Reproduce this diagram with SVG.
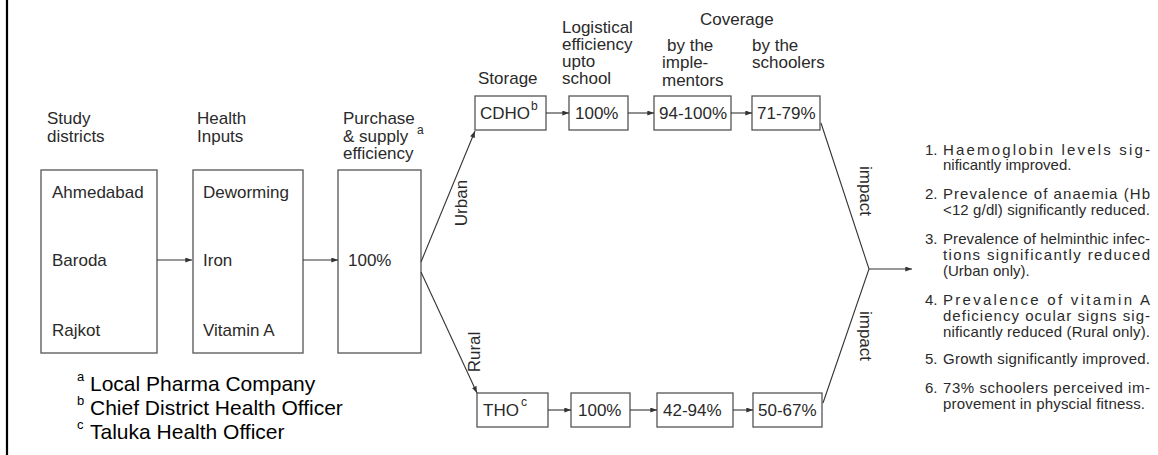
<svg xmlns="http://www.w3.org/2000/svg" width="1158" height="455" viewBox="0 0 1158 455">
<defs>
<marker id="ah" viewBox="0 0 8 6" refX="8" refY="3" markerWidth="7" markerHeight="5" orient="auto" markerUnits="userSpaceOnUse"><path d="M0,0 L8,3 L0,6 z" fill="#333"/></marker>
</defs>
<style>
.bx{fill:#fff;stroke:#555;stroke-width:1.3}
.t{font-family:"Liberation Sans",Arial,sans-serif;font-size:17px;fill:#2a2a2a}
.sup{font-family:"Liberation Sans",Arial,sans-serif;font-size:12px;fill:#2a2a2a}
.li{font-family:"Liberation Sans",Arial,sans-serif;font-size:15px;fill:#2a2a2a}
.fn{font-family:"Liberation Sans",Arial,sans-serif;font-size:21px;fill:#000}
.fns{font-family:"Liberation Sans",Arial,sans-serif;font-size:13px;fill:#000}
.c{fill:none;stroke:#333;stroke-width:1.1}
</style>
<rect width="1158" height="455" fill="#fff"/>
<line x1="7" y1="0" x2="7" y2="455" stroke="#000" stroke-width="2.2"/>

<g id="headers">
<text class="t" x="47" y="124">Study</text>
<text class="t" x="47" y="142">districts</text>
<text class="t" x="197" y="124">Health</text>
<text class="t" x="197" y="142">Inputs</text>
<text class="t" x="343" y="124">Purchase</text>
<text class="t" x="343" y="142">&amp; supply</text>
<text class="sup" x="417" y="134">a</text>
<text class="t" x="343" y="159">efficiency</text>
<text class="t" x="478" y="84">Storage</text>
<text class="t" x="562" y="33">Logistical</text>
<text class="t" x="562" y="50">efficiency</text>
<text class="t" x="562" y="67">upto</text>
<text class="t" x="562" y="84">school</text>
<text class="t" x="700" y="25">Coverage</text>
<text class="t" x="667" y="51">by the</text>
<text class="t" x="662" y="68">imple-</text>
<text class="t" x="662" y="86">mentors</text>
<text class="t" x="752" y="51">by the</text>
<text class="t" x="752" y="68">schoolers</text>
</g>

<g id="districts">
<rect class="bx" x="41" y="170" width="116" height="183"/>
<text class="t" x="52" y="198">Ahmedabad</text>
<text class="t" x="52" y="266">Baroda</text>
<text class="t" x="52" y="336">Rajkot</text>
</g>
<g id="inputs">
<rect class="bx" x="193" y="170" width="110" height="183"/>
<text class="t" x="203" y="198">Deworming</text>
<text class="t" x="203" y="266">Iron</text>
<text class="t" x="203" y="336">Vitamin A</text>
</g>
<g id="purchase">
<rect class="bx" x="338" y="170" width="83" height="183"/>
<text class="t" x="348" y="266">100%</text>
</g>

<g id="cdho">
<rect class="bx" x="475" y="96" width="71" height="34"/>
<text class="t" x="480" y="119">CDHO</text>
<text class="sup" x="531" y="110">b</text>
</g>
<g id="urban-log">
<rect class="bx" x="569" y="96" width="59" height="34"/>
<text class="t" x="575" y="119">100%</text>
</g>
<g id="urban-impl">
<rect class="bx" x="654" y="96" width="77" height="34"/>
<text class="t" x="659" y="119">94-100%</text>
</g>
<g id="urban-school">
<rect class="bx" x="752" y="96" width="68" height="34"/>
<text class="t" x="757" y="119">71-79%</text>
</g>

<g id="tho">
<rect class="bx" x="477" y="393" width="71" height="34"/>
<text class="t" x="483" y="416">THO</text>
<text class="sup" x="521" y="406">c</text>
</g>
<g id="rural-log">
<rect class="bx" x="571" y="393" width="59" height="34"/>
<text class="t" x="578" y="416">100%</text>
</g>
<g id="rural-impl">
<rect class="bx" x="657" y="393" width="76" height="34"/>
<text class="t" x="663" y="416">42-94%</text>
</g>
<g id="rural-school">
<rect class="bx" x="753" y="393" width="69" height="34"/>
<text class="t" x="758" y="416">50-67%</text>
</g>

<g id="connectors">
<line class="c" x1="157" y1="260" x2="192" y2="260" marker-end="url(#ah)"/>
<line class="c" x1="303" y1="260" x2="338" y2="260" marker-end="url(#ah)"/>
<line class="c" x1="421" y1="262" x2="475" y2="131" marker-end="url(#ah)"/>
<line class="c" x1="421" y1="272" x2="477" y2="393" marker-end="url(#ah)"/>
<line class="c" x1="546" y1="113" x2="569" y2="113" marker-end="url(#ah)"/>
<line class="c" x1="628" y1="113" x2="654" y2="113" marker-end="url(#ah)"/>
<line class="c" x1="731" y1="113" x2="752" y2="113" marker-end="url(#ah)"/>
<line class="c" x1="548" y1="410" x2="571" y2="410" marker-end="url(#ah)"/>
<line class="c" x1="630" y1="410" x2="657" y2="410" marker-end="url(#ah)"/>
<line class="c" x1="733" y1="410" x2="753" y2="410" marker-end="url(#ah)"/>
<polyline class="c" points="821,123 869,269 823,403"/>
<line class="c" x1="869" y1="269" x2="912" y2="269" marker-end="url(#ah)"/>
<text class="t" transform="translate(461,203) rotate(-90)" text-anchor="middle" dy="6">Urban</text>
<text class="t" transform="translate(474,352) rotate(-90)" text-anchor="middle" dy="6">Rural</text>
<text class="t" transform="translate(866,191) rotate(90)" text-anchor="middle" dy="6">impact</text>
<text class="t" transform="translate(866,336) rotate(90)" text-anchor="middle" dy="6">impact</text>
</g>

<g id="outcomes">
<text class="li" x="925" y="155">1.</text>
<text class="li" x="943" y="155" textLength="207" lengthAdjust="spacing">Haemoglobin levels sig-</text>
<text class="li" x="943" y="170">nificantly improved.</text>
<text class="li" x="925" y="199">2.</text>
<text class="li" x="943" y="199" textLength="207" lengthAdjust="spacing">Prevalence of anaemia (Hb</text>
<text class="li" x="943" y="215" textLength="207" lengthAdjust="spacing">&lt;12 g/dl) significantly reduced.</text>
<text class="li" x="925" y="244">3.</text>
<text class="li" x="943" y="244" textLength="207" lengthAdjust="spacing">Prevalence of helminthic infec-</text>
<text class="li" x="943" y="260" textLength="207" lengthAdjust="spacing">tions significantly reduced</text>
<text class="li" x="943" y="276">(Urban only).</text>
<text class="li" x="925" y="305">4.</text>
<text class="li" x="943" y="305" textLength="207" lengthAdjust="spacing">Prevalence of vitamin A</text>
<text class="li" x="943" y="321" textLength="207" lengthAdjust="spacing">deficiency ocular signs sig-</text>
<text class="li" x="943" y="337" textLength="207" lengthAdjust="spacing">nificantly reduced (Rural only).</text>
<text class="li" x="925" y="364">5.</text>
<text class="li" x="943" y="364" textLength="207" lengthAdjust="spacing">Growth significantly improved.</text>
<text class="li" x="925" y="393">6.</text>
<text class="li" x="943" y="393" textLength="207" lengthAdjust="spacing">73% schoolers perceived im-</text>
<text class="li" x="943" y="409" textLength="202" lengthAdjust="spacing">provement in physcial fitness.</text>
</g>

<g id="footnotes">
<text class="fns" x="77" y="381">a</text>
<text class="fn" x="90" y="391">Local Pharma Company</text>
<text class="fns" x="77" y="405">b</text>
<text class="fn" x="90" y="415">Chief District Health Officer</text>
<text class="fns" x="77" y="429">c</text>
<text class="fn" x="90" y="439">Taluka Health Officer</text>
</g>
</svg>
